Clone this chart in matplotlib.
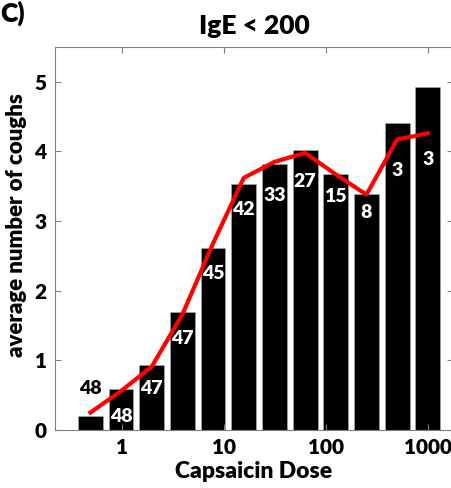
import numpy as np
import matplotlib
matplotlib.use("Agg")
import matplotlib.pyplot as plt

plt.rcParams["font.family"] = ["Lato", "DejaVu Sans"]
plt.rcParams["font.weight"] = "heavy"

# capsaicin doses (doubling), mean coughs per dose, fitted/smoothed curve, n per dose
doses = [0.48828, 0.97656, 1.953, 3.906, 7.8125, 15.625, 31.25, 62.5, 125, 250, 500, 1000]
mean_coughs = [0.20, 0.59, 0.93, 1.70, 2.61, 3.53, 3.82, 4.02, 3.68, 3.39, 4.41, 4.92]
curve = [0.25, 0.56, 0.91, 1.66, 2.68, 3.62, 3.85, 3.98, 3.67, 3.38, 4.17, 4.26]
n_subjects = [48, 48, 47, 47, 45, 42, 33, 27, 15, 8, 3, 3]
label_y = [0.60, 0.20, 0.59, 1.31, 2.25, 3.17, 3.37, 3.57, 3.35, 3.13, 3.73, 3.89]
dose_ticks = [1, 10, 100, 1000]
dose_ticklabels = ["1", "10", "100", "1000"]

WEIGHT = "heavy"


def main():
    fig = plt.figure(figsize=(4.52, 4.88), dpi=100)
    ax = fig.add_axes([0.1217, 0.1189, 0.880, 0.7848])

    x = np.log10(doses)
    ax.bar(x, mean_coughs, width=0.243, color="black", edgecolor="#b0b0b0", lw=0.4)
    ax.plot(x, curve, color="red", lw=3)

    for i, (xi, yi, n) in enumerate(zip(x, label_y, n_subjects)):
        col = "black" if i == 0 else "white"
        ax.text(xi, yi, str(n), color=col, ha="center", va="center",
                fontsize=14, fontweight=WEIGHT)

    ax.set_xlim(-0.659, 3.245)
    ax.set_ylim(0, 5.5)
    ax.set_xticks(np.log10(dose_ticks))
    ax.set_xticklabels(dose_ticklabels, fontweight=WEIGHT)
    ax.set_yticks(range(6))
    ax.set_yticklabels([str(v) for v in range(6)], fontweight=WEIGHT)
    ax.tick_params(direction="in", top=True, right=True, length=4, width=0.8,
                   color="#808080", labelsize=15, pad=6)
    for s in ax.spines.values():
        s.set_color("#808080")
        s.set_linewidth(0.8)

    ax.set_xlabel("Capsaicin Dose", fontsize=16.5, fontweight=WEIGHT, labelpad=3)
    ax.set_ylabel("average number of coughs", fontsize=16, fontweight=WEIGHT)
    ax.yaxis.set_label_coords(-0.07, 0.535)
    ax.set_title("IgE < 200", fontsize=19, fontweight=WEIGHT, pad=9)
    fig.text(0.0, 1.0, "C)", fontsize=19, fontweight=WEIGHT, va="top", ha="left")

    fig.savefig("out.png", dpi=100)


if __name__ == "__main__":
    main()
